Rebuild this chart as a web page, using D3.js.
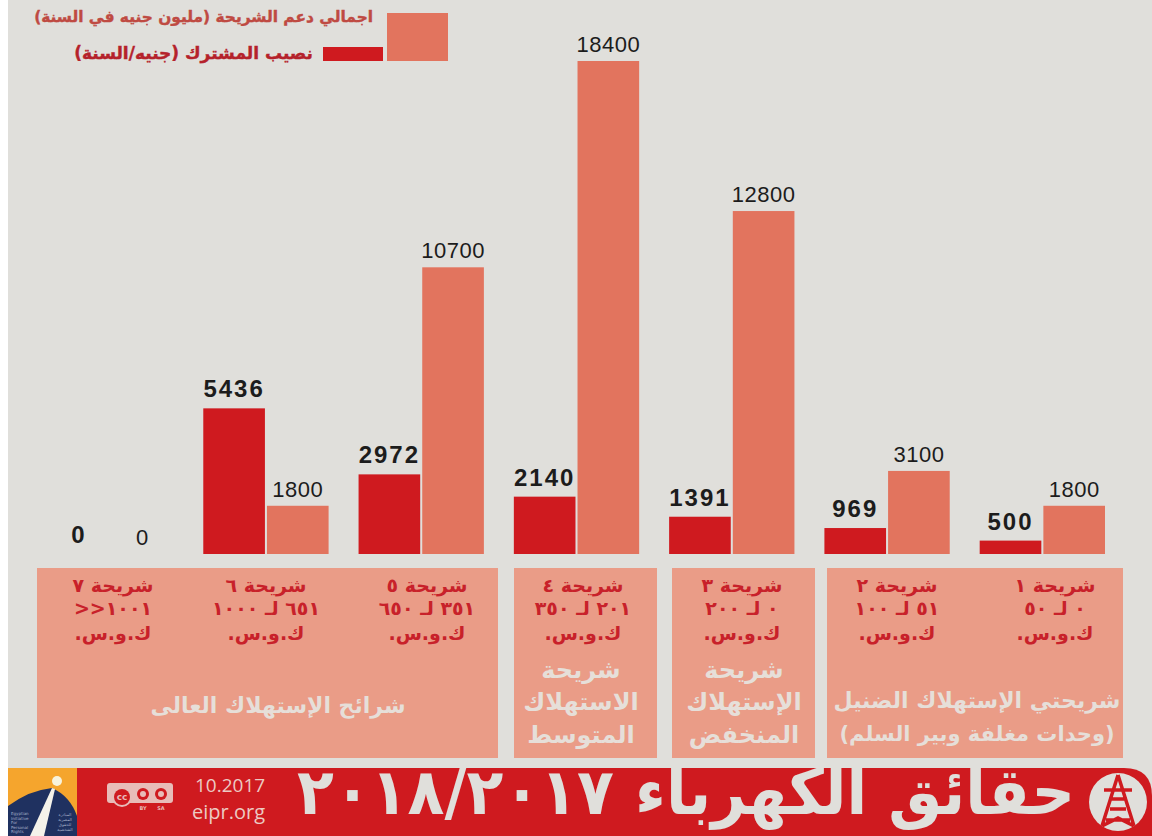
<!DOCTYPE html>
<html lang="ar">

<head>
    <meta charset="utf-8" />
    <script src="https://cdnjs.cloudflare.com/ajax/libs/d3/7.8.5/d3.min.js"></script>
    <style type="text/css">
        html, body {
            margin: 0;
            padding: 0;
            background: #ffffff;
        }

        svg {
            display: block;
        }

        text {
            font-family: 'DejaVu Sans', sans-serif;
        }

        .num {
            font-family: 'Liberation Sans', sans-serif;
        }

        .latin {
            font-family: 'Open Sans', sans-serif;
        }
    </style>
</head>

<body>
    <div id="chart"></div>
    <script type="text/javascript">
        // Chart data, left to right as in the picture
        var bands = ['شريحة ٧', 'شريحة ٦', 'شريحة ٥', 'شريحة ٤', 'شريحة ٣', 'شريحة ٢', 'شريحة ١'];
        var ranges = ['١٠٠١<<', '٦٥١ لـ ١٠٠٠', '٣٥١ لـ ٦٥٠', '٢٠١ لـ ٣٥٠', '٠ لـ ٢٠٠', '٥١ لـ ١٠٠', '٠ لـ ٥٠'];
        var unitLabel = 'ك.و.س.';
        var perSubscriber = [0, 5436, 2972, 2140, 1391, 969, 500];
        var totalSupport = [0, 1800, 10700, 18400, 12800, 3100, 1800];
        var seriesNames = ['نصيب المشترك (جنيه/السنة)', 'اجمالي دعم الشريحة (مليون جنيه في السنة)'];
        var groupLabels = [
            ['شرائح الإستهلاك العالى'],
            ['شريحة', 'الاستهلاك', 'المتوسط'],
            ['شريحة', 'الإستهلاك', 'المنخفض'],
            ['شريحتي الإستهلاك الضنيل', '(وحدات مغلفة وبير السلم)']
        ];
        var titleText = 'حقائق الكهرباء ٢٠١٨/٢٠١٧';
        var logoLinesEn = ['Egyptian', 'Initiative', 'For', 'Personal', 'Rights'];
        var logoLinesAr = ['المبادرة', 'المصرية', 'للحقوق', 'الشخصية'];

        var width = 1152;
        var height = 836;
        var baseline = 554;
        var bg = '#e0dfdb';
        var red = '#cf1a1f';
        var salmon = '#e2745e';
        var panelFill = '#ea9c87';
        var paleText = '#e6dfd9';
        var badge = '#e8bcb8';

        var svg = d3.select('#chart')
            .append('svg')
            .attr('width', width)
            .attr('height', height);

        svg.append('rect')
            .attr('x', 8)
            .attr('y', 0)
            .attr('width', width - 8)
            .attr('height', height)
            .attr('fill', bg);

        // -- scales --
        var x0 = d3.scaleBand()
            .domain(d3.range(bands.length))
            .range([48, 1105])
            .paddingInner(0.193);

        var x1 = d3.scaleBand()
            .domain([0, 1])
            .range([0, x0.bandwidth()])
            .paddingInner(0.032);

        var y = d3.scaleLinear()
            .domain([0, 18400])
            .range([baseline, 61]);

        // -- bars --
        var seriesValues = [perSubscriber, totalSupport];
        var seriesFill = [red, salmon];

        seriesValues.forEach(function (values, s) {
            var g = svg.append('g');

            g.selectAll('rect')
                .data(values)
                .enter()
                .append('rect')
                .attr('x', function (d, i) { return x0(i) + x1(s) })
                .attr('y', function (d) { return y(d) })
                .attr('width', x1.bandwidth())
                .attr('height', function (d) { return baseline - y(d) })
                .attr('fill', seriesFill[s]);

            g.selectAll('text')
                .data(values)
                .enter()
                .append('text')
                .attr('class', 'num')
                .attr('x', function (d, i) { return x0(i) + x1(s) + x1.bandwidth() / 2 })
                .attr('y', function (d) { return y(d) - (s == 0 ? 11 : 9) })
                .attr('text-anchor', 'middle')
                .attr('font-size', s == 0 ? 24 : 22)
                .attr('font-weight', s == 0 ? 'bold' : 'normal')
                .attr('letter-spacing', s == 0 ? 2 : 0.5)
                .attr('fill', '#1c1c1c')
                .text(function (d) { return d });
        });

        // -- legend --
        svg.append('rect').attr('x', 387).attr('y', 13).attr('width', 61).attr('height', 48).attr('fill', salmon);
        svg.append('rect').attr('x', 323).attr('y', 47).attr('width', 60).attr('height', 14).attr('fill', red);

        // in rtl text, anchor start is the right edge
        svg.append('text')
            .attr('x', 373).attr('y', 22)
            .attr('text-anchor', 'start')
            .attr('direction', 'rtl')
            .attr('font-size', 15.4)
            .attr('font-weight', 'bold')
            .attr('fill', '#bf4a42')
            .attr('stroke', '#bf4a42')
            .attr('stroke-width', 0.4)
            .text(seriesNames[1]);

        svg.append('text')
            .attr('x', 313).attr('y', 59)
            .attr('text-anchor', 'start')
            .attr('direction', 'rtl')
            .attr('font-size', 17)
            .attr('font-weight', 'bold')
            .attr('fill', '#b5222b')
            .attr('stroke', '#b5222b')
            .attr('stroke-width', 0.4)
            .text(seriesNames[0]);

        // -- panels under the bars --
        var panelEdges = [[37, 498], [514, 657], [672, 815], [827, 1123]];
        var panelTop = 568;
        var panelBottom = 758;

        svg.append('g')
            .selectAll('rect')
            .data(panelEdges)
            .enter()
            .append('rect')
            .attr('x', function (d) { return d[0] })
            .attr('y', panelTop)
            .attr('width', function (d) { return d[1] - d[0] })
            .attr('height', panelBottom - panelTop)
            .attr('fill', panelFill);

        var bandText = svg.append('g')
            .attr('text-anchor', 'middle')
            .attr('direction', 'rtl')
            .attr('font-weight', 'bold')
            .attr('font-size', 19)
            .attr('fill', '#c8212a');

        var bandCenters = [113, 266, 427, 583, 742, 897, 1055];

        bands.forEach(function (b, i) {
            var cx = bandCenters[i];
            bandText.append('text').attr('x', cx).attr('y', 592).text(b);
            bandText.append('text').attr('x', cx).attr('y', 615).text(ranges[i]);
            bandText.append('text').attr('x', cx).attr('y', 640).text(unitLabel);
        });

        // pale group captions, one list of baselines per panel
        var groupCenters = [278, 581, 744, 977];
        var groupBaselines = [[713], [678, 710, 743], [678, 710, 743], [708, 741]];
        var groupSize = [[22], [24, 24, 24], [24, 24, 24], [22, 21]];

        groupLabels.forEach(function (lines, p) {
            lines.forEach(function (line, l) {
                svg.append('text')
                    .attr('x', groupCenters[p])
                    .attr('y', groupBaselines[p][l])
                    .attr('text-anchor', 'middle')
                    .attr('direction', 'rtl')
                    .attr('font-weight', 'bold')
                    .attr('font-size', groupSize[p][l])
                    .attr('fill', paleText)
                    .text(line);
            });
        });

        // -- footer band --
        svg.append('path')
            .attr('d', 'M8,768 H1124 Q1152,768 1152,796 V836 H8 Z')
            .attr('fill', red);

        // title is fitted to its width in the picture
        var title = svg.append('text')
            .attr('text-anchor', 'middle')
            .attr('direction', 'rtl')
            .attr('font-weight', 'bold')
            .attr('font-size', 64)
            .attr('fill', bg)
            .text(titleText);
        var titleScale = 778 / title.node().getComputedTextLength();
        title.attr('transform', 'translate(686,814) scale(' + titleScale + ',1)');

        // logo corner
        svg.append('rect').attr('x', 8).attr('y', 768).attr('width', 69).attr('height', 68).attr('fill', '#f5a52d');
        svg.append('path').attr('d', 'M8,806 Q30,790 52,788 Q70,796 77,816 V836 H8 Z').attr('fill', '#1f3160');
        svg.append('path').attr('d', 'M30,836 L52,788 L55,789 L44,836 Z').attr('fill', '#f4f2ea');
        svg.append('circle').attr('cx', 57).attr('cy', 781).attr('r', 5).attr('fill', '#f8f3dc');

        svg.append('g')
            .attr('font-size', 4)
            .attr('fill', '#aab4cc')
            .selectAll('text')
            .data(logoLinesEn)
            .enter()
            .append('text')
            .attr('x', 11)
            .attr('y', function (d, i) { return 815 + i * 4.5 })
            .text(function (d) { return d });

        svg.append('g')
            .attr('font-size', 4)
            .attr('fill', '#aab4cc')
            .attr('text-anchor', 'middle')
            .attr('direction', 'rtl')
            .selectAll('text')
            .data(logoLinesAr)
            .enter()
            .append('text')
            .attr('x', 65)
            .attr('y', function (d, i) { return 816 + i * 5 })
            .text(function (d) { return d });

        // cc badge
        svg.append('rect').attr('x', 107).attr('y', 783).attr('width', 66).attr('height', 20).attr('rx', 3).attr('fill', badge);
        svg.append('circle').attr('cx', 122).attr('cy', 797).attr('r', 10).attr('fill', badge);
        svg.append('circle').attr('cx', 122).attr('cy', 797).attr('r', 8).attr('fill', red);
        svg.append('text').attr('x', 122).attr('y', 800).attr('text-anchor', 'middle').attr('font-size', 9).attr('font-weight', 'bold').attr('fill', badge).text('cc');
        [143, 161].forEach(function (cx) {
            svg.append('circle').attr('cx', cx).attr('cy', 794).attr('r', 6).attr('fill', red);
            svg.append('circle').attr('cx', cx).attr('cy', 794).attr('r', 3).attr('fill', badge);
        });
        svg.append('text').attr('x', 143).attr('y', 810).attr('text-anchor', 'middle').attr('font-size', 5).attr('font-weight', 'bold').attr('fill', badge).text('BY');
        svg.append('text').attr('x', 161).attr('y', 810).attr('text-anchor', 'middle').attr('font-size', 5).attr('font-weight', 'bold').attr('fill', badge).text('SA');

        svg.append('text')
            .attr('class', 'latin')
            .attr('x', 195).attr('y', 792)
            .attr('font-size', 19)
            .attr('fill', '#eccac3')
            .text('10.2017');

        svg.append('text')
            .attr('class', 'latin')
            .attr('x', 192).attr('y', 819)
            .attr('font-size', 20)
            .attr('fill', '#eccac3')
            .text('eipr.org');

        // tower icon
        svg.append('circle').attr('cx', 1118).attr('cy', 802).attr('r', 29).attr('fill', bg);
        svg.append('path')
            .attr('d', 'M1118,775 L1134,826 M1118,775 L1102,826 M1104,790 H1132 M1109,799 H1127 M1110,809 H1126 M1106,820 H1130 M1102,826 L1118,818 L1134,826')
            .attr('stroke', red)
            .attr('stroke-width', 3.5)
            .attr('fill', 'none');
    </script>
</body>

</html>
